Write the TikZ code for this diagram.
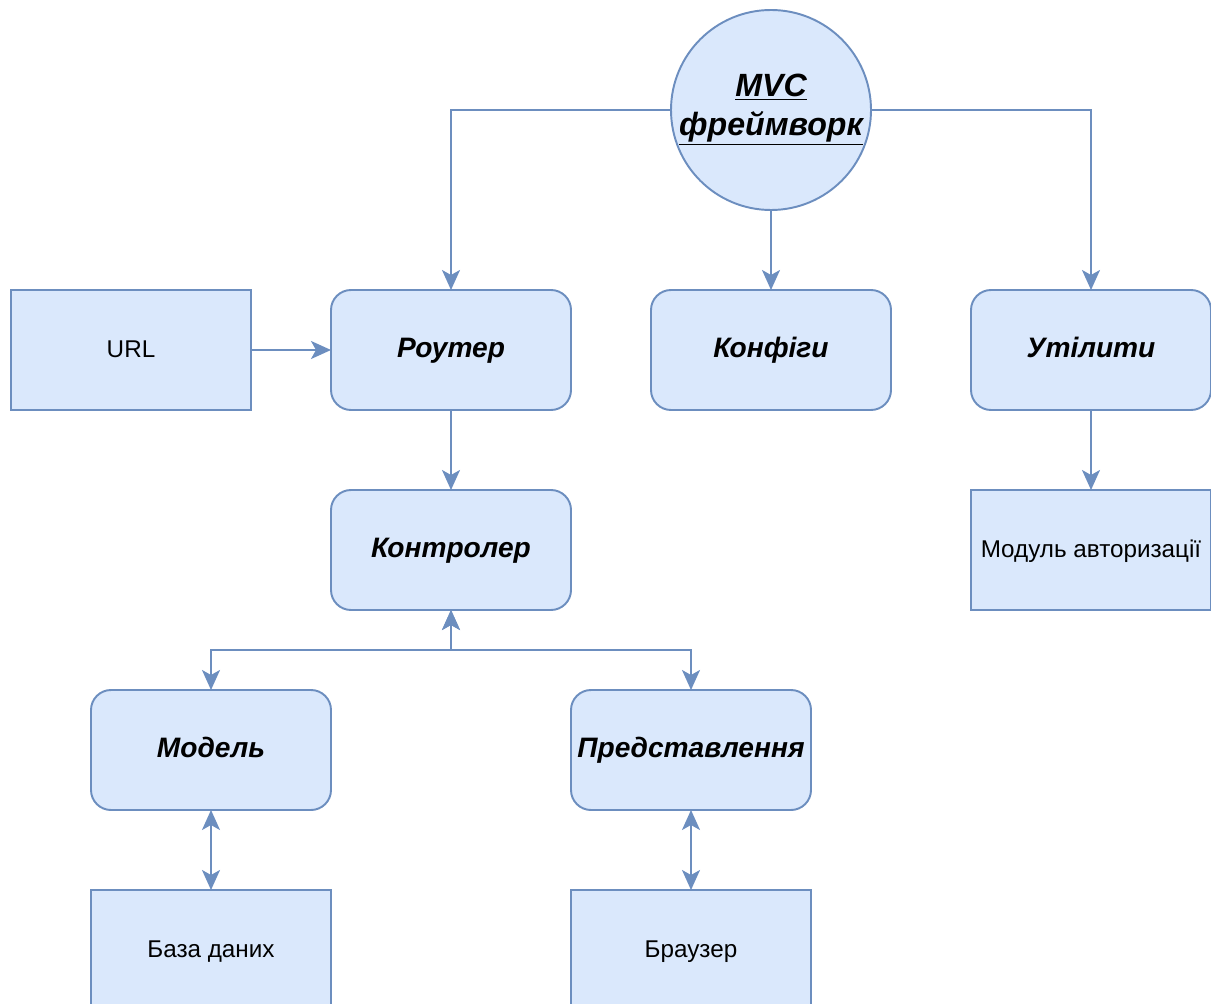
\documentclass[tikz,border=0pt]{standalone}
\usepackage{fontspec}
\setmainfont{Liberation Sans}
\usepackage{xcolor}
\usetikzlibrary{arrows.meta}
\usetikzlibrary{positioning}

\definecolor{boxfill}{HTML}{DAE8FC}
\definecolor{boxline}{HTML}{6C8EBF}

\begin{document}
\begin{tikzpicture}[
				node distance=16mm,
				arrow/.style={line width=1.1pt, draw=boxline, -{Stealth[length=4mm, width=3.6mm, inset=1mm]}},
				biarrow/.style={arrow, {Stealth[length=4mm, width=3.6mm, inset=1mm]}-{Stealth[length=4mm, width=3.6mm, inset=1mm]}},
				block/.style={draw=boxline, fill=boxfill, line width=1.1pt, minimum width=48mm, minimum height=24mm, inner sep=0pt, outer sep=0pt, text height=1.8ex, text depth=0.1ex, font=\fontsize{13.8}{16}\selectfont},
				part/.style={block, rounded corners=4mm, font=\fontsize{16}{19}\selectfont\bfseries\itshape},
				hub/.style={circle, draw=boxline, fill=boxfill, line width=1.1pt, minimum size=40mm, inner sep=0pt, outer sep=0pt, align=center, font=\fontsize{18.3}{22}\selectfont\bfseries\itshape},
			]
				% page frame: the bottom row and the right column run off the edge
				\useasboundingbox (-2.62,7.0) rectangle (21.6,-13.06);

				\node[block] (url) at (0,0) {URL};
				\node[part, right=of url] (router) {Роутер};
				\node[part, right=of router] (config) {Конфіги};
				\node[part, right=of config] (utils) {Утілити};
				\node[hub, above=of config] (mvc) {\underline{MVC}\\\underline{фреймворк}};
				\node[part, below=of router] (ctrl) {Контролер};
				\node[block, below=of utils] (auth) {Модуль авторизації};
				\node[part, below left=16mm and 0mm of ctrl.south west] (model) {Модель};
				\node[part, below right=16mm and 0mm of ctrl.south east] (view) {Представлення};
				\node[block, below=of model] (db) {База даних};
				\node[block, below=of view] (browser) {Браузер};

				\draw[arrow] (mvc.west) -| (router.north);
				\draw[arrow] (mvc.south) -- (config.north);
				\draw[arrow] (mvc.east) -| (utils.north);

				\draw[arrow] (url) -- (router);
				\draw[arrow] (router) -- (ctrl);
				\draw[arrow] (utils) -- (auth);

				\draw[biarrow] (ctrl.south) -- ++(0,-8mm) -| (model.north);
				\draw[biarrow] (ctrl.south) -- ++(0,-8mm) -| (view.north);

				\draw[biarrow] (model) -- (db);
				\draw[biarrow] (view) -- (browser);
			\end{tikzpicture}
\end{document}
